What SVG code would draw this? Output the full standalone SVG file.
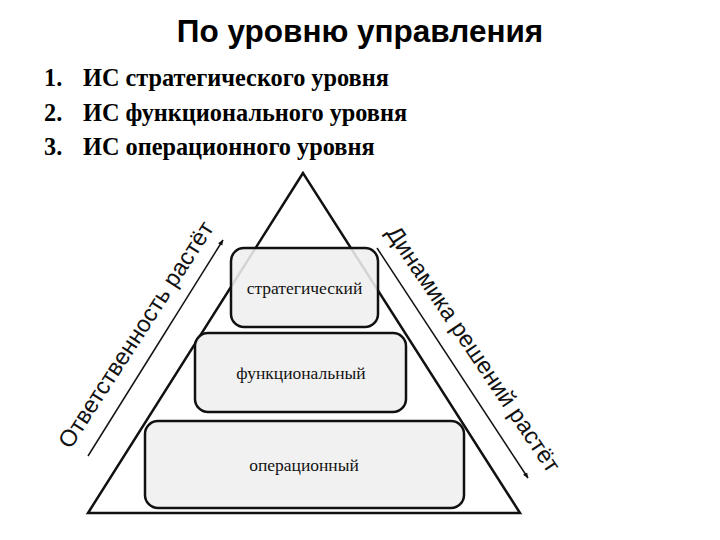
<svg xmlns="http://www.w3.org/2000/svg" width="720" height="540" viewBox="0 0 720 540">
<style>
.title{font-family:"Liberation Sans",Arial,sans-serif;font-weight:bold;font-size:31.5px;fill:#000}
.item{font-family:"Liberation Serif","Times New Roman",serif;font-weight:bold;font-size:24.3px;fill:#000}
.box{fill:#efefef;fill-opacity:0.88;stroke:#111;stroke-width:2.5}
.lbl{font-family:"Liberation Serif","Times New Roman",serif;font-size:17.5px;fill:#111;text-anchor:middle}
.side{font-family:"Liberation Sans",Arial,sans-serif;font-size:23.5px;fill:#111;text-anchor:middle}
.arr{stroke:#111;stroke-width:1.5;fill:none;marker-end:url(#ah)}
</style>
<defs>
<marker id="ah" viewBox="0 0 10 10" refX="9" refY="5" markerWidth="6" markerHeight="6" orient="auto" markerUnits="userSpaceOnUse">
<path d="M0,1 L10,5 L0,9 z" fill="#111"/>
</marker>
</defs>
<rect width="720" height="540" fill="#fff"/>
<text class="title" x="360" y="41.5" text-anchor="middle">По уровню управления</text>
<g id="list">
<text class="item" x="44" y="86">1.</text>
<text class="item" x="83" y="86">ИС стратегического уровня</text>
<text class="item" x="44" y="121">2.</text>
<text class="item" x="83" y="121">ИС функционального уровня</text>
<text class="item" x="44" y="155">3.</text>
<text class="item" x="83" y="155">ИС операционного уровня</text>
</g>
<g id="pyramid">
<polygon points="303,173 88,513 520,513" fill="none" stroke="#111" stroke-width="2.5" stroke-linejoin="miter"/>
</g>
<g id="strategic">
<rect class="box" x="231" y="248" width="147" height="79" rx="13"/>
<text class="lbl" x="304.5" y="294">стратегический</text>
</g>
<g id="functional">
<rect class="box" x="195" y="333" width="211" height="79" rx="13"/>
<text class="lbl" x="301" y="379">функциональный</text>
</g>
<g id="operational">
<rect class="box" x="145" y="421" width="319" height="87" rx="13"/>
<text class="lbl" x="304" y="471">операционный</text>
</g>
<g id="connectors">
<line class="arr" x1="88" y1="456" x2="223" y2="240"/>
<line class="arr" x1="377" y1="248" x2="528" y2="478"/>
</g>
<g id="side-labels">
<text class="side" transform="translate(142.5,339) rotate(-57)">Ответственность растёт</text>
<text class="side" transform="translate(467,353.5) rotate(56)">Динамика решений растёт</text>
</g>
</svg>
